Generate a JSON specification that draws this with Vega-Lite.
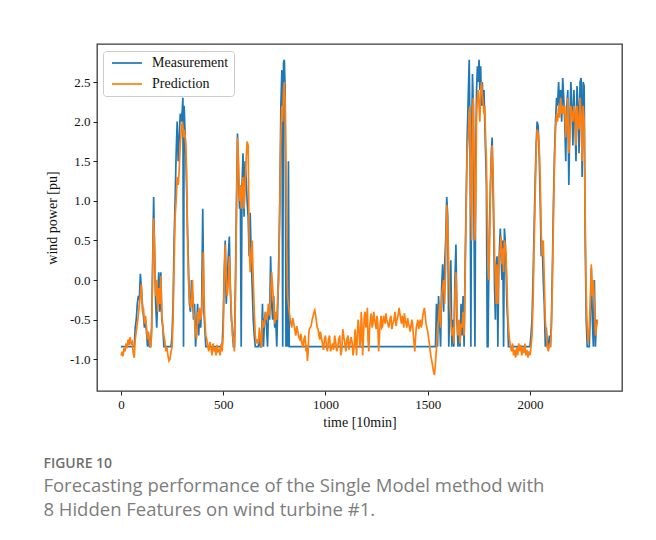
{
  "$schema": "https://vega.github.io/schema/vega-lite/v6.json",
  "width": 525,
  "height": 347,
  "autosize": {"type": "none"},
  "padding": {"left": 97, "top": 44, "right": 34, "bottom": 149},
  "background": "white",
  "title": {
    "text": "FIGURE 10",
    "subtitle": ["Forecasting performance of the Single Model method with", "8 Hidden Features on wind turbine #1."],
    "orient": "bottom",
    "anchor": "start",
    "frame": "bounds",
    "offset": 28,
    "dx": -2,
    "font": "Open Sans",
    "fontSize": 14,
    "fontWeight": 600,
    "color": "#6f6f6f",
    "subtitleFont": "Open Sans",
    "subtitleFontSize": 18.5,
    "subtitleFontWeight": "normal",
    "subtitleColor": "#7d7d7d",
    "subtitleLineHeight": 24,
    "subtitlePadding": 6
  },
  "data": {"values": [
    {"t":0,"Measurement":-0.84,"Prediction":-0.95},
    {"t":5,"Measurement":-0.84,"Prediction":-0.92},
    {"t":10,"Measurement":-0.84,"Prediction":-0.96},
    {"t":15,"Measurement":-0.84,"Prediction":-0.86},
    {"t":20,"Measurement":-0.84,"Prediction":-0.9},
    {"t":25,"Measurement":-0.84,"Prediction":-0.8},
    {"t":30,"Measurement":-0.84,"Prediction":-0.86},
    {"t":35,"Measurement":-0.84,"Prediction":-0.75},
    {"t":40,"Measurement":-0.84,"Prediction":-0.82},
    {"t":45,"Measurement":-0.84,"Prediction":-0.72},
    {"t":50,"Measurement":-0.84,"Prediction":-0.8},
    {"t":55,"Measurement":-0.84,"Prediction":-0.78},
    {"t":60,"Measurement":-0.84,"Prediction":-0.92},
    {"t":65,"Measurement":-0.84,"Prediction":-0.98},
    {"t":70,"Measurement":-0.6,"Prediction":-0.75},
    {"t":75,"Measurement":-0.5,"Prediction":-0.65},
    {"t":80,"Measurement":-0.3,"Prediction":-0.55},
    {"t":85,"Measurement":-0.2,"Prediction":-0.45},
    {"t":90,"Measurement":-0.25,"Prediction":-0.3},
    {"t":95,"Measurement":0.08,"Prediction":-0.2},
    {"t":100,"Measurement":-0.1,"Prediction":-0.05},
    {"t":105,"Measurement":-0.3,"Prediction":-0.4},
    {"t":110,"Measurement":-0.45,"Prediction":-0.35},
    {"t":115,"Measurement":-0.6,"Prediction":-0.55},
    {"t":120,"Measurement":-0.5,"Prediction":-0.45},
    {"t":125,"Measurement":-0.65,"Prediction":-0.6},
    {"t":130,"Measurement":-0.84,"Prediction":-0.75},
    {"t":135,"Measurement":-0.7,"Prediction":-0.65},
    {"t":140,"Measurement":-0.84,"Prediction":-0.8},
    {"t":145,"Measurement":-0.84,"Prediction":-0.85},
    {"t":150,"Measurement":-0.6,"Prediction":-0.7},
    {"t":155,"Measurement":0.2,"Prediction":0.1},
    {"t":160,"Measurement":1.05,"Prediction":0.78},
    {"t":165,"Measurement":0.3,"Prediction":0.35},
    {"t":170,"Measurement":-0.3,"Prediction":-0.2},
    {"t":175,"Measurement":-0.6,"Prediction":0.0},
    {"t":180,"Measurement":-0.2,"Prediction":-0.4},
    {"t":185,"Measurement":0.1,"Prediction":-0.1},
    {"t":190,"Measurement":-0.4,"Prediction":-0.3},
    {"t":195,"Measurement":0.1,"Prediction":0.05},
    {"t":200,"Measurement":-0.5,"Prediction":-0.45},
    {"t":205,"Measurement":-0.6,"Prediction":-0.6},
    {"t":210,"Measurement":-0.84,"Prediction":-0.7},
    {"t":215,"Measurement":-0.84,"Prediction":-0.78},
    {"t":220,"Measurement":-0.84,"Prediction":-0.9},
    {"t":225,"Measurement":-0.84,"Prediction":-0.85},
    {"t":230,"Measurement":-0.84,"Prediction":-0.95},
    {"t":235,"Measurement":-0.84,"Prediction":-1.02},
    {"t":240,"Measurement":-0.84,"Prediction":-1.0},
    {"t":245,"Measurement":-0.84,"Prediction":-0.9},
    {"t":250,"Measurement":-0.7,"Prediction":-0.85},
    {"t":255,"Measurement":-0.3,"Prediction":-0.5},
    {"t":260,"Measurement":0.5,"Prediction":0.2},
    {"t":265,"Measurement":1.0,"Prediction":0.8},
    {"t":270,"Measurement":1.6,"Prediction":1.0},
    {"t":275,"Measurement":2.0,"Prediction":1.3},
    {"t":280,"Measurement":1.5,"Prediction":1.2},
    {"t":285,"Measurement":1.8,"Prediction":1.4},
    {"t":290,"Measurement":2.1,"Prediction":1.7},
    {"t":295,"Measurement":2.0,"Prediction":1.9},
    {"t":300,"Measurement":2.15,"Prediction":2.0},
    {"t":303,"Measurement":2.3,"Prediction":1.95},
    {"t":306,"Measurement":-0.84,"Prediction":1.8},
    {"t":309,"Measurement":2.2,"Prediction":1.9},
    {"t":313,"Measurement":1.9,"Prediction":1.85},
    {"t":317,"Measurement":1.6,"Prediction":1.7},
    {"t":321,"Measurement":1.2,"Prediction":1.4},
    {"t":325,"Measurement":0.7,"Prediction":0.6},
    {"t":330,"Measurement":0.2,"Prediction":0.0},
    {"t":335,"Measurement":-0.3,"Prediction":-0.2},
    {"t":340,"Measurement":-0.4,"Prediction":-0.35},
    {"t":345,"Measurement":0.0,"Prediction":-0.3},
    {"t":350,"Measurement":-0.2,"Prediction":0.0},
    {"t":355,"Measurement":-0.5,"Prediction":-0.4},
    {"t":360,"Measurement":-0.3,"Prediction":-0.5},
    {"t":365,"Measurement":-0.84,"Prediction":-0.65},
    {"t":370,"Measurement":-0.6,"Prediction":-0.75},
    {"t":375,"Measurement":-0.3,"Prediction":-0.4},
    {"t":380,"Measurement":-0.7,"Prediction":-0.55},
    {"t":385,"Measurement":-0.4,"Prediction":-0.35},
    {"t":390,"Measurement":-0.6,"Prediction":-0.5},
    {"t":395,"Measurement":-0.3,"Prediction":-0.4},
    {"t":400,"Measurement":0.9,"Prediction":0.0},
    {"t":403,"Measurement":0.2,"Prediction":0.35},
    {"t":406,"Measurement":-0.4,"Prediction":-0.2},
    {"t":410,"Measurement":-0.6,"Prediction":-0.5},
    {"t":415,"Measurement":-0.84,"Prediction":-0.7},
    {"t":420,"Measurement":-0.84,"Prediction":-0.75},
    {"t":425,"Measurement":-0.84,"Prediction":-0.85},
    {"t":430,"Measurement":-0.84,"Prediction":-0.9},
    {"t":435,"Measurement":-0.84,"Prediction":-0.78},
    {"t":440,"Measurement":-0.84,"Prediction":-0.85},
    {"t":445,"Measurement":-0.84,"Prediction":-0.95},
    {"t":450,"Measurement":-0.84,"Prediction":-0.8},
    {"t":455,"Measurement":-0.84,"Prediction":-0.9},
    {"t":460,"Measurement":-0.84,"Prediction":-0.85},
    {"t":465,"Measurement":-0.84,"Prediction":-0.95},
    {"t":470,"Measurement":-0.84,"Prediction":-0.82},
    {"t":475,"Measurement":-0.84,"Prediction":-0.9},
    {"t":480,"Measurement":-0.84,"Prediction":-0.88},
    {"t":485,"Measurement":-0.84,"Prediction":-0.95},
    {"t":490,"Measurement":-0.84,"Prediction":-0.8},
    {"t":495,"Measurement":-0.84,"Prediction":-0.9},
    {"t":500,"Measurement":-0.5,"Prediction":-0.7},
    {"t":505,"Measurement":0.1,"Prediction":0.0},
    {"t":510,"Measurement":0.5,"Prediction":0.45},
    {"t":515,"Measurement":-0.3,"Prediction":0.0},
    {"t":520,"Measurement":0.0,"Prediction":-0.2},
    {"t":525,"Measurement":0.3,"Prediction":-0.05},
    {"t":530,"Measurement":0.55,"Prediction":0.3},
    {"t":535,"Measurement":-0.1,"Prediction":-0.1},
    {"t":540,"Measurement":-0.5,"Prediction":-0.4},
    {"t":545,"Measurement":-0.6,"Prediction":-0.7},
    {"t":550,"Measurement":-0.84,"Prediction":-0.75},
    {"t":555,"Measurement":-0.84,"Prediction":-0.9},
    {"t":560,"Measurement":0.0,"Prediction":-0.2},
    {"t":565,"Measurement":1.0,"Prediction":0.8},
    {"t":570,"Measurement":1.85,"Prediction":1.8},
    {"t":575,"Measurement":1.3,"Prediction":1.5},
    {"t":580,"Measurement":0.9,"Prediction":1.0},
    {"t":584,"Measurement":1.1,"Prediction":1.2},
    {"t":588,"Measurement":-0.84,"Prediction":0.9},
    {"t":592,"Measurement":1.2,"Prediction":1.1},
    {"t":597,"Measurement":1.6,"Prediction":1.3},
    {"t":602,"Measurement":0.8,"Prediction":0.9},
    {"t":607,"Measurement":1.5,"Prediction":1.2},
    {"t":612,"Measurement":1.3,"Prediction":1.5},
    {"t":617,"Measurement":1.0,"Prediction":1.75},
    {"t":622,"Measurement":0.8,"Prediction":1.7},
    {"t":627,"Measurement":0.3,"Prediction":0.5},
    {"t":632,"Measurement":0.85,"Prediction":0.1},
    {"t":637,"Measurement":0.3,"Prediction":0.3},
    {"t":642,"Measurement":-0.1,"Prediction":0.5},
    {"t":647,"Measurement":-0.5,"Prediction":0.0},
    {"t":652,"Measurement":-0.7,"Prediction":-0.4},
    {"t":657,"Measurement":-0.84,"Prediction":-0.7},
    {"t":662,"Measurement":-0.84,"Prediction":-0.8},
    {"t":667,"Measurement":-0.84,"Prediction":-0.75},
    {"t":672,"Measurement":-0.84,"Prediction":-0.8},
    {"t":677,"Measurement":-0.7,"Prediction":-0.6},
    {"t":682,"Measurement":-0.84,"Prediction":-0.72},
    {"t":687,"Measurement":-0.84,"Prediction":-0.85},
    {"t":692,"Measurement":-0.3,"Prediction":-0.5},
    {"t":697,"Measurement":-0.84,"Prediction":-0.6},
    {"t":702,"Measurement":-0.5,"Prediction":-0.55},
    {"t":707,"Measurement":-0.4,"Prediction":-0.4},
    {"t":712,"Measurement":-0.6,"Prediction":-0.5},
    {"t":717,"Measurement":-0.84,"Prediction":-0.45},
    {"t":722,"Measurement":-0.3,"Prediction":-0.3},
    {"t":727,"Measurement":-0.5,"Prediction":-0.45},
    {"t":732,"Measurement":0.3,"Prediction":-0.2},
    {"t":737,"Measurement":-0.3,"Prediction":0.1},
    {"t":742,"Measurement":-0.5,"Prediction":-0.1},
    {"t":747,"Measurement":-0.2,"Prediction":-0.3},
    {"t":752,"Measurement":-0.6,"Prediction":-0.55},
    {"t":757,"Measurement":-0.5,"Prediction":-0.4},
    {"t":762,"Measurement":-0.84,"Prediction":-0.5},
    {"t":767,"Measurement":-0.3,"Prediction":-0.2},
    {"t":772,"Measurement":0.3,"Prediction":0.0},
    {"t":777,"Measurement":1.0,"Prediction":1.0},
    {"t":782,"Measurement":2.2,"Prediction":1.8},
    {"t":787,"Measurement":2.65,"Prediction":2.2},
    {"t":791,"Measurement":-0.84,"Prediction":2.0},
    {"t":795,"Measurement":2.75,"Prediction":2.4},
    {"t":799,"Measurement":2.78,"Prediction":2.5},
    {"t":803,"Measurement":2.4,"Prediction":2.25},
    {"t":807,"Measurement":-0.84,"Prediction":1.5},
    {"t":811,"Measurement":0.5,"Prediction":0.4},
    {"t":815,"Measurement":-0.84,"Prediction":-0.2},
    {"t":819,"Measurement":1.5,"Prediction":-0.3},
    {"t":823,"Measurement":-0.84,"Prediction":-0.4},
    {"t":828,"Measurement":-0.84,"Prediction":-0.5},
    {"t":835,"Measurement":-0.84,"Prediction":-0.6},
    {"t":840,"Measurement":-0.84,"Prediction":-0.48},
    {"t":845,"Measurement":-0.84,"Prediction":-0.55},
    {"t":850,"Measurement":-0.84,"Prediction":-0.62},
    {"t":855,"Measurement":-0.84,"Prediction":-0.7},
    {"t":860,"Measurement":-0.84,"Prediction":-0.58},
    {"t":865,"Measurement":-0.84,"Prediction":-0.65},
    {"t":870,"Measurement":-0.84,"Prediction":-0.72},
    {"t":875,"Measurement":-0.84,"Prediction":-0.75},
    {"t":880,"Measurement":-0.84,"Prediction":-0.68},
    {"t":885,"Measurement":-0.84,"Prediction":-0.8},
    {"t":890,"Measurement":-0.84,"Prediction":-0.85},
    {"t":895,"Measurement":-0.84,"Prediction":-0.75},
    {"t":900,"Measurement":-0.84,"Prediction":-0.7},
    {"t":905,"Measurement":-0.84,"Prediction":-0.9},
    {"t":908,"Measurement":-0.84,"Prediction":-0.82},
    {"t":912,"Measurement":-0.84,"Prediction":-1.02},
    {"t":915,"Measurement":-0.84,"Prediction":-0.92},
    {"t":918,"Measurement":-0.84,"Prediction":-0.7},
    {"t":921,"Measurement":-0.84,"Prediction":-0.62},
    {"t":925,"Measurement":-0.84,"Prediction":-0.6},
    {"t":930,"Measurement":-0.84,"Prediction":-0.58},
    {"t":935,"Measurement":-0.84,"Prediction":-0.5},
    {"t":940,"Measurement":-0.84,"Prediction":-0.45},
    {"t":945,"Measurement":-0.84,"Prediction":-0.4},
    {"t":948,"Measurement":-0.84,"Prediction":-0.38},
    {"t":952,"Measurement":-0.84,"Prediction":-0.45},
    {"t":956,"Measurement":-0.84,"Prediction":-0.52},
    {"t":960,"Measurement":-0.84,"Prediction":-0.6},
    {"t":964,"Measurement":-0.84,"Prediction":-0.62},
    {"t":968,"Measurement":-0.84,"Prediction":-0.7},
    {"t":972,"Measurement":-0.84,"Prediction":-0.75},
    {"t":975,"Measurement":-0.84,"Prediction":-0.65},
    {"t":980,"Measurement":-0.84,"Prediction":-0.72},
    {"t":985,"Measurement":-0.84,"Prediction":-0.8},
    {"t":990,"Measurement":-0.84,"Prediction":-0.88},
    {"t":995,"Measurement":-0.84,"Prediction":-0.75},
    {"t":1000,"Measurement":-0.84,"Prediction":-0.7},
    {"t":1005,"Measurement":-0.84,"Prediction":-0.85},
    {"t":1010,"Measurement":-0.84,"Prediction":-0.9},
    {"t":1015,"Measurement":-0.84,"Prediction":-0.75},
    {"t":1020,"Measurement":-0.84,"Prediction":-0.7},
    {"t":1025,"Measurement":-0.84,"Prediction":-0.9},
    {"t":1030,"Measurement":-0.84,"Prediction":-0.85},
    {"t":1035,"Measurement":-0.84,"Prediction":-0.8},
    {"t":1040,"Measurement":-0.84,"Prediction":-0.88},
    {"t":1045,"Measurement":-0.84,"Prediction":-0.7},
    {"t":1050,"Measurement":-0.84,"Prediction":-0.78},
    {"t":1055,"Measurement":-0.84,"Prediction":-0.9},
    {"t":1060,"Measurement":-0.84,"Prediction":-0.85},
    {"t":1065,"Measurement":-0.84,"Prediction":-0.75},
    {"t":1070,"Measurement":-0.84,"Prediction":-0.7},
    {"t":1075,"Measurement":-0.84,"Prediction":-0.95},
    {"t":1080,"Measurement":-0.84,"Prediction":-0.88},
    {"t":1085,"Measurement":-0.84,"Prediction":-0.62},
    {"t":1090,"Measurement":-0.84,"Prediction":-0.72},
    {"t":1095,"Measurement":-0.84,"Prediction":-0.8},
    {"t":1100,"Measurement":-0.84,"Prediction":-0.9},
    {"t":1105,"Measurement":-0.84,"Prediction":-0.75},
    {"t":1110,"Measurement":-0.84,"Prediction":-0.7},
    {"t":1115,"Measurement":-0.84,"Prediction":-0.88},
    {"t":1120,"Measurement":-0.84,"Prediction":-0.8},
    {"t":1125,"Measurement":-0.84,"Prediction":-0.72},
    {"t":1130,"Measurement":-0.84,"Prediction":-0.78},
    {"t":1135,"Measurement":-0.84,"Prediction":-0.95},
    {"t":1140,"Measurement":-0.84,"Prediction":-0.85},
    {"t":1145,"Measurement":-0.84,"Prediction":-0.62},
    {"t":1148,"Measurement":-0.84,"Prediction":-0.75},
    {"t":1152,"Measurement":-0.84,"Prediction":-0.95},
    {"t":1156,"Measurement":-0.84,"Prediction":-0.7},
    {"t":1160,"Measurement":-0.84,"Prediction":-0.5},
    {"t":1164,"Measurement":-0.84,"Prediction":-0.6},
    {"t":1168,"Measurement":-0.84,"Prediction":-0.85},
    {"t":1172,"Measurement":-0.84,"Prediction":-0.75},
    {"t":1175,"Measurement":-0.84,"Prediction":-0.4},
    {"t":1178,"Measurement":-0.84,"Prediction":-0.55},
    {"t":1182,"Measurement":-0.84,"Prediction":-0.95},
    {"t":1186,"Measurement":-0.84,"Prediction":-0.7},
    {"t":1190,"Measurement":-0.84,"Prediction":-0.45},
    {"t":1194,"Measurement":-0.84,"Prediction":-0.4},
    {"t":1198,"Measurement":-0.84,"Prediction":-0.6},
    {"t":1202,"Measurement":-0.84,"Prediction":-0.5},
    {"t":1205,"Measurement":-0.84,"Prediction":-0.35},
    {"t":1208,"Measurement":-0.84,"Prediction":-0.75},
    {"t":1212,"Measurement":-0.84,"Prediction":-0.9},
    {"t":1216,"Measurement":-0.84,"Prediction":-0.6},
    {"t":1220,"Measurement":-0.84,"Prediction":-0.5},
    {"t":1224,"Measurement":-0.84,"Prediction":-0.42},
    {"t":1228,"Measurement":-0.84,"Prediction":-0.6},
    {"t":1232,"Measurement":-0.84,"Prediction":-0.55},
    {"t":1236,"Measurement":-0.84,"Prediction":-0.4},
    {"t":1240,"Measurement":-0.84,"Prediction":-0.48},
    {"t":1244,"Measurement":-0.84,"Prediction":-0.55},
    {"t":1248,"Measurement":-0.84,"Prediction":-0.62},
    {"t":1252,"Measurement":-0.84,"Prediction":-0.45},
    {"t":1256,"Measurement":-0.84,"Prediction":-0.55},
    {"t":1260,"Measurement":-0.84,"Prediction":-0.9},
    {"t":1264,"Measurement":-0.84,"Prediction":-0.7},
    {"t":1268,"Measurement":-0.84,"Prediction":-0.55},
    {"t":1272,"Measurement":-0.84,"Prediction":-0.45},
    {"t":1276,"Measurement":-0.84,"Prediction":-0.6},
    {"t":1280,"Measurement":-0.84,"Prediction":-0.58},
    {"t":1284,"Measurement":-0.84,"Prediction":-0.45},
    {"t":1288,"Measurement":-0.84,"Prediction":-0.5},
    {"t":1292,"Measurement":-0.84,"Prediction":-0.55},
    {"t":1296,"Measurement":-0.84,"Prediction":-0.42},
    {"t":1300,"Measurement":-0.84,"Prediction":-0.5},
    {"t":1305,"Measurement":-0.84,"Prediction":-0.55},
    {"t":1310,"Measurement":-0.84,"Prediction":-0.6},
    {"t":1315,"Measurement":-0.84,"Prediction":-0.5},
    {"t":1320,"Measurement":-0.84,"Prediction":-0.45},
    {"t":1325,"Measurement":-0.84,"Prediction":-0.62},
    {"t":1330,"Measurement":-0.84,"Prediction":-0.55},
    {"t":1335,"Measurement":-0.84,"Prediction":-0.5},
    {"t":1340,"Measurement":-0.84,"Prediction":-0.4},
    {"t":1345,"Measurement":-0.84,"Prediction":-0.58},
    {"t":1350,"Measurement":-0.84,"Prediction":-0.5},
    {"t":1355,"Measurement":-0.84,"Prediction":-0.45},
    {"t":1360,"Measurement":-0.84,"Prediction":-0.35},
    {"t":1364,"Measurement":-0.84,"Prediction":-0.42},
    {"t":1368,"Measurement":-0.84,"Prediction":-0.5},
    {"t":1372,"Measurement":-0.84,"Prediction":-0.55},
    {"t":1375,"Measurement":-0.84,"Prediction":-0.45},
    {"t":1379,"Measurement":-0.84,"Prediction":-0.5},
    {"t":1383,"Measurement":-0.84,"Prediction":-0.6},
    {"t":1386,"Measurement":-0.84,"Prediction":-0.42},
    {"t":1390,"Measurement":-0.84,"Prediction":-0.5},
    {"t":1394,"Measurement":-0.84,"Prediction":-0.55},
    {"t":1398,"Measurement":-0.84,"Prediction":-0.6},
    {"t":1402,"Measurement":-0.84,"Prediction":-0.48},
    {"t":1406,"Measurement":-0.84,"Prediction":-0.55},
    {"t":1410,"Measurement":-0.84,"Prediction":-0.58},
    {"t":1414,"Measurement":-0.84,"Prediction":-0.65},
    {"t":1418,"Measurement":-0.84,"Prediction":-0.6},
    {"t":1422,"Measurement":-0.84,"Prediction":-0.5},
    {"t":1426,"Measurement":-0.84,"Prediction":-0.55},
    {"t":1430,"Measurement":-0.84,"Prediction":-0.7},
    {"t":1434,"Measurement":-0.84,"Prediction":-0.82},
    {"t":1437,"Measurement":-0.84,"Prediction":-0.9},
    {"t":1440,"Measurement":-0.84,"Prediction":-0.75},
    {"t":1444,"Measurement":-0.84,"Prediction":-0.6},
    {"t":1448,"Measurement":-0.84,"Prediction":-0.55},
    {"t":1452,"Measurement":-0.84,"Prediction":-0.5},
    {"t":1456,"Measurement":-0.84,"Prediction":-0.62},
    {"t":1460,"Measurement":-0.84,"Prediction":-0.55},
    {"t":1464,"Measurement":-0.84,"Prediction":-0.5},
    {"t":1468,"Measurement":-0.84,"Prediction":-0.6},
    {"t":1472,"Measurement":-0.84,"Prediction":-0.55},
    {"t":1476,"Measurement":-0.84,"Prediction":-0.45},
    {"t":1480,"Measurement":-0.84,"Prediction":-0.4},
    {"t":1484,"Measurement":-0.84,"Prediction":-0.35},
    {"t":1488,"Measurement":-0.84,"Prediction":-0.45},
    {"t":1492,"Measurement":-0.84,"Prediction":-0.55},
    {"t":1496,"Measurement":-0.84,"Prediction":-0.6},
    {"t":1500,"Measurement":-0.84,"Prediction":-0.65},
    {"t":1508,"Measurement":-0.84,"Prediction":-0.8},
    {"t":1515,"Measurement":-0.84,"Prediction":-0.95},
    {"t":1522,"Measurement":-0.84,"Prediction":-1.05},
    {"t":1528,"Measurement":-0.84,"Prediction":-1.15},
    {"t":1533,"Measurement":-0.84,"Prediction":-1.2},
    {"t":1538,"Measurement":-0.84,"Prediction":-1.05},
    {"t":1543,"Measurement":-0.3,"Prediction":-0.85},
    {"t":1548,"Measurement":-0.84,"Prediction":-0.6},
    {"t":1553,"Measurement":-0.2,"Prediction":-0.5},
    {"t":1558,"Measurement":-0.5,"Prediction":-0.3},
    {"t":1563,"Measurement":-0.84,"Prediction":-0.6},
    {"t":1568,"Measurement":-0.1,"Prediction":-0.2},
    {"t":1573,"Measurement":0.2,"Prediction":-0.1},
    {"t":1578,"Measurement":-0.4,"Prediction":0.0},
    {"t":1583,"Measurement":0.2,"Prediction":-0.3},
    {"t":1588,"Measurement":0.5,"Prediction":0.2},
    {"t":1593,"Measurement":1.05,"Prediction":0.95},
    {"t":1598,"Measurement":0.8,"Prediction":0.6},
    {"t":1603,"Measurement":-0.84,"Prediction":0.2},
    {"t":1608,"Measurement":-0.3,"Prediction":-0.3},
    {"t":1613,"Measurement":0.25,"Prediction":-0.5},
    {"t":1618,"Measurement":-0.84,"Prediction":-0.7},
    {"t":1623,"Measurement":-0.5,"Prediction":-0.6},
    {"t":1628,"Measurement":-0.84,"Prediction":-0.8},
    {"t":1633,"Measurement":0.0,"Prediction":-0.2},
    {"t":1638,"Measurement":0.45,"Prediction":0.1},
    {"t":1643,"Measurement":-0.5,"Prediction":-0.4},
    {"t":1648,"Measurement":-0.84,"Prediction":-0.7},
    {"t":1653,"Measurement":-0.6,"Prediction":-0.5},
    {"t":1658,"Measurement":-0.84,"Prediction":-0.8},
    {"t":1663,"Measurement":-0.3,"Prediction":-0.55},
    {"t":1668,"Measurement":-0.7,"Prediction":-0.6},
    {"t":1673,"Measurement":-0.2,"Prediction":-0.4},
    {"t":1678,"Measurement":-0.84,"Prediction":-0.7},
    {"t":1683,"Measurement":0.2,"Prediction":0.0},
    {"t":1688,"Measurement":1.0,"Prediction":0.9},
    {"t":1693,"Measurement":1.8,"Prediction":1.6},
    {"t":1698,"Measurement":2.3,"Prediction":1.8},
    {"t":1703,"Measurement":2.78,"Prediction":2.1},
    {"t":1707,"Measurement":1.8,"Prediction":2.2},
    {"t":1711,"Measurement":-0.84,"Prediction":1.0},
    {"t":1715,"Measurement":1.8,"Prediction":0.5},
    {"t":1719,"Measurement":2.6,"Prediction":2.0},
    {"t":1723,"Measurement":2.2,"Prediction":2.3},
    {"t":1727,"Measurement":0.5,"Prediction":1.5},
    {"t":1731,"Measurement":-0.84,"Prediction":0.5},
    {"t":1735,"Measurement":1.6,"Prediction":1.0},
    {"t":1739,"Measurement":2.4,"Prediction":2.1},
    {"t":1743,"Measurement":2.7,"Prediction":2.3},
    {"t":1747,"Measurement":2.5,"Prediction":2.4},
    {"t":1751,"Measurement":2.78,"Prediction":2.2},
    {"t":1755,"Measurement":2.4,"Prediction":2.0},
    {"t":1759,"Measurement":2.7,"Prediction":2.4},
    {"t":1763,"Measurement":2.2,"Prediction":2.5},
    {"t":1767,"Measurement":2.5,"Prediction":2.35},
    {"t":1771,"Measurement":2.2,"Prediction":2.25},
    {"t":1775,"Measurement":2.4,"Prediction":2.1},
    {"t":1779,"Measurement":2.0,"Prediction":2.2},
    {"t":1783,"Measurement":1.6,"Prediction":1.8},
    {"t":1787,"Measurement":1.2,"Prediction":1.5},
    {"t":1791,"Measurement":-0.84,"Prediction":0.8},
    {"t":1795,"Measurement":-0.84,"Prediction":0.3},
    {"t":1799,"Measurement":0.2,"Prediction":0.0},
    {"t":1803,"Measurement":0.8,"Prediction":0.5},
    {"t":1807,"Measurement":1.2,"Prediction":1.2},
    {"t":1811,"Measurement":1.6,"Prediction":1.5},
    {"t":1815,"Measurement":1.8,"Prediction":1.7},
    {"t":1819,"Measurement":1.2,"Prediction":1.4},
    {"t":1823,"Measurement":0.6,"Prediction":0.9},
    {"t":1827,"Measurement":-0.1,"Prediction":0.3},
    {"t":1831,"Measurement":-0.5,"Prediction":0.0},
    {"t":1835,"Measurement":0.2,"Prediction":-0.3},
    {"t":1839,"Measurement":0.3,"Prediction":0.2},
    {"t":1843,"Measurement":-0.84,"Prediction":-0.3},
    {"t":1847,"Measurement":0.1,"Prediction":0.1},
    {"t":1851,"Measurement":0.4,"Prediction":0.3},
    {"t":1855,"Measurement":0.65,"Prediction":0.4},
    {"t":1859,"Measurement":0.3,"Prediction":0.55},
    {"t":1863,"Measurement":0.0,"Prediction":0.2},
    {"t":1867,"Measurement":0.5,"Prediction":0.4},
    {"t":1871,"Measurement":-0.84,"Prediction":0.1},
    {"t":1875,"Measurement":0.65,"Prediction":0.5},
    {"t":1879,"Measurement":0.5,"Prediction":0.45},
    {"t":1883,"Measurement":0.2,"Prediction":0.3},
    {"t":1887,"Measurement":-0.3,"Prediction":0.0},
    {"t":1891,"Measurement":-0.5,"Prediction":-0.4},
    {"t":1895,"Measurement":-0.84,"Prediction":-0.6},
    {"t":1900,"Measurement":-0.84,"Prediction":-0.75},
    {"t":1905,"Measurement":-0.84,"Prediction":-0.85},
    {"t":1910,"Measurement":-0.84,"Prediction":-0.9},
    {"t":1915,"Measurement":-0.84,"Prediction":-0.8},
    {"t":1920,"Measurement":-0.84,"Prediction":-0.95},
    {"t":1925,"Measurement":-0.84,"Prediction":-0.88},
    {"t":1930,"Measurement":-0.84,"Prediction":-0.98},
    {"t":1935,"Measurement":-0.84,"Prediction":-0.85},
    {"t":1940,"Measurement":-0.84,"Prediction":-0.95},
    {"t":1945,"Measurement":-0.84,"Prediction":-0.8},
    {"t":1950,"Measurement":-0.84,"Prediction":-0.9},
    {"t":1955,"Measurement":-0.84,"Prediction":-0.82},
    {"t":1960,"Measurement":-0.84,"Prediction":-0.95},
    {"t":1965,"Measurement":-0.84,"Prediction":-0.85},
    {"t":1970,"Measurement":-0.84,"Prediction":-0.92},
    {"t":1975,"Measurement":-0.84,"Prediction":-0.8},
    {"t":1980,"Measurement":-0.84,"Prediction":-0.95},
    {"t":1985,"Measurement":-0.84,"Prediction":-0.88},
    {"t":1990,"Measurement":-0.84,"Prediction":-0.98},
    {"t":1995,"Measurement":-0.84,"Prediction":-0.9},
    {"t":2000,"Measurement":-0.84,"Prediction":-0.95},
    {"t":2005,"Measurement":-0.7,"Prediction":-0.85},
    {"t":2010,"Measurement":-0.5,"Prediction":-0.7},
    {"t":2015,"Measurement":0.0,"Prediction":-0.3},
    {"t":2020,"Measurement":0.6,"Prediction":0.4},
    {"t":2025,"Measurement":1.2,"Prediction":1.0},
    {"t":2030,"Measurement":1.7,"Prediction":1.6},
    {"t":2035,"Measurement":2.0,"Prediction":1.9},
    {"t":2040,"Measurement":1.95,"Prediction":1.85},
    {"t":2045,"Measurement":1.6,"Prediction":1.7},
    {"t":2050,"Measurement":1.0,"Prediction":1.3},
    {"t":2055,"Measurement":0.3,"Prediction":0.6},
    {"t":2060,"Measurement":0.5,"Prediction":0.3},
    {"t":2065,"Measurement":0.0,"Prediction":0.5},
    {"t":2070,"Measurement":-0.3,"Prediction":0.0},
    {"t":2075,"Measurement":-0.84,"Prediction":-0.5},
    {"t":2080,"Measurement":-0.6,"Prediction":-0.7},
    {"t":2085,"Measurement":-0.84,"Prediction":-0.85},
    {"t":2090,"Measurement":-0.84,"Prediction":-0.9},
    {"t":2095,"Measurement":-0.7,"Prediction":-0.8},
    {"t":2100,"Measurement":-0.84,"Prediction":-0.85},
    {"t":2105,"Measurement":-0.5,"Prediction":-0.6},
    {"t":2110,"Measurement":0.2,"Prediction":0.0},
    {"t":2115,"Measurement":1.0,"Prediction":0.8},
    {"t":2120,"Measurement":1.6,"Prediction":1.5},
    {"t":2125,"Measurement":2.0,"Prediction":1.9},
    {"t":2130,"Measurement":2.3,"Prediction":2.1},
    {"t":2135,"Measurement":2.2,"Prediction":2.0},
    {"t":2140,"Measurement":2.5,"Prediction":2.2},
    {"t":2145,"Measurement":2.2,"Prediction":2.05},
    {"t":2150,"Measurement":2.4,"Prediction":2.3},
    {"t":2155,"Measurement":2.0,"Prediction":2.1},
    {"t":2160,"Measurement":2.55,"Prediction":2.2},
    {"t":2165,"Measurement":2.3,"Prediction":2.1},
    {"t":2170,"Measurement":2.0,"Prediction":2.2},
    {"t":2175,"Measurement":1.5,"Prediction":1.8},
    {"t":2180,"Measurement":2.2,"Prediction":2.0},
    {"t":2185,"Measurement":2.4,"Prediction":2.3},
    {"t":2190,"Measurement":1.2,"Prediction":1.6},
    {"t":2195,"Measurement":2.0,"Prediction":1.8},
    {"t":2200,"Measurement":2.5,"Prediction":2.2},
    {"t":2205,"Measurement":2.2,"Prediction":2.1},
    {"t":2210,"Measurement":1.7,"Prediction":2.0},
    {"t":2215,"Measurement":2.4,"Prediction":2.2},
    {"t":2220,"Measurement":2.0,"Prediction":2.1},
    {"t":2225,"Measurement":1.5,"Prediction":1.7},
    {"t":2230,"Measurement":2.45,"Prediction":2.2},
    {"t":2235,"Measurement":2.2,"Prediction":2.0},
    {"t":2240,"Measurement":1.6,"Prediction":1.9},
    {"t":2245,"Measurement":2.5,"Prediction":2.3},
    {"t":2250,"Measurement":2.55,"Prediction":2.1},
    {"t":2255,"Measurement":1.3,"Prediction":1.5},
    {"t":2260,"Measurement":2.5,"Prediction":2.2},
    {"t":2265,"Measurement":2.45,"Prediction":2.0},
    {"t":2270,"Measurement":0.5,"Prediction":0.8},
    {"t":2275,"Measurement":-0.5,"Prediction":-0.2},
    {"t":2280,"Measurement":-0.84,"Prediction":-0.6},
    {"t":2285,"Measurement":-0.84,"Prediction":-0.8},
    {"t":2290,"Measurement":-0.84,"Prediction":-0.6},
    {"t":2295,"Measurement":-0.4,"Prediction":-0.3},
    {"t":2300,"Measurement":0.15,"Prediction":0.2},
    {"t":2305,"Measurement":-0.5,"Prediction":-0.2},
    {"t":2310,"Measurement":-0.84,"Prediction":0.0},
    {"t":2315,"Measurement":0.0,"Prediction":-0.3},
    {"t":2320,"Measurement":-0.84,"Prediction":-0.7},
    {"t":2325,"Measurement":-0.5,"Prediction":-0.6},
    {"t":2330,"Measurement":-0.55,"Prediction":-0.5}
  ]},
  "transform": [{"fold": ["Measurement", "Prediction"], "as": ["series", "power"]}],
  "mark": {"type": "line", "strokeWidth": 1.7, "clip": true},
  "encoding": {
    "x": {
      "field": "t", "type": "quantitative",
      "scale": {"domain": [-117, 2450], "nice": false, "zero": false},
      "axis": {"values": [0, 500, 1000, 1500, 2000], "title": "time [10min]", "format": "d"}
    },
    "y": {
      "field": "power", "type": "quantitative",
      "scale": {"domain": [-1.4, 2.98], "nice": false, "zero": false},
      "axis": {"values": [-1, -0.5, 0, 0.5, 1, 1.5, 2, 2.5], "title": "wind power [pu]",
               "labelExpr": "replace(format(datum.value, '.1f'), '\u2212', '-')"}
    },
    "color": {
      "field": "series", "type": "nominal",
      "scale": {"domain": ["Measurement", "Prediction"], "range": ["#1f77b4", "#ff7f0e"]},
      "legend": {"title": null, "orient": "none", "legendX": 6, "legendY": 7}
    },
    "order": {"field": "t", "type": "quantitative"}
  },
  "config": {
    "view": {"stroke": "#3a3a3a", "strokeWidth": 1.3},
    "axis": {
      "grid": false, "domain": false,
      "tickColor": "#222", "tickSize": 4, "tickWidth": 1,
      "labelFont": "Liberation Serif", "labelFontSize": 13, "labelColor": "#111", "labelPadding": 3,
      "titleFont": "Liberation Serif", "titleFontSize": 14, "titleFontWeight": "normal", "titleColor": "#111"
    },
    "axisX": {"titlePadding": 4},
    "axisY": {"titlePadding": 10},
    "legend": {
      "symbolType": "M-0.6,0H5.4", "symbolSize": 100, "symbolStrokeWidth": 1.7,
      "labelFont": "Liberation Serif", "labelFontSize": 14, "labelColor": "#111",
      "labelOffset": 30, "padding": 5, "rowPadding": 7,
      "fillColor": "white", "strokeColor": "#cccccc", "cornerRadius": 3
    }
  }
}
